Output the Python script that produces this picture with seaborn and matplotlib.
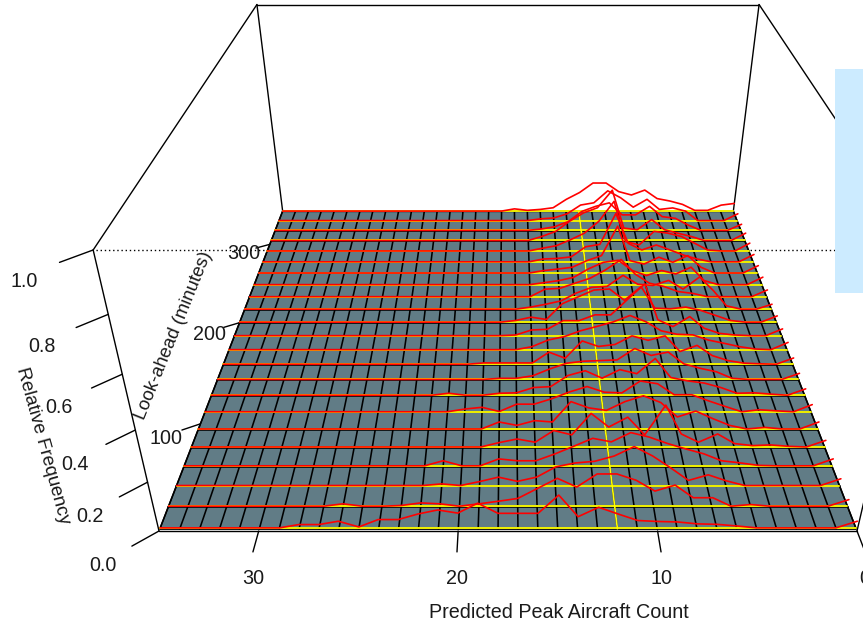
import numpy as np
import pandas as pd
import seaborn as sns
import matplotlib
matplotlib.use("Agg")
import matplotlib.pyplot as plt
from matplotlib.patches import Rectangle, Polygon

sns.set_theme(style="white")
plt.rcParams['font.family'] = ['Liberation Sans', 'DejaVu Sans']

# Relative frequency per look-ahead row; list index = predicted count 0,1,2,...
row_020 = [.028,0,0,0,0,0,.008,.015,.017,.025,.027,.031,.058,.086,.047,.136,.061,.061,.061,.103,.062,.075,.058,.035,.035,.004,.028,.014,.014]
row_035 = [.028,0,0,0,0,.007,0,.036,.036,.089,.064,.109,.135,.135,.081,.117,.075,.033,.021,.01,0,.01,.014,.003,0,0,.01]
row_050 = [.029,0,0,0,0,0,.02,.046,.022,.075,.125,.164,.125,.103,.096,.08,.036,.018,.036,.017,0,.007]
row_065 = [.03,0,0,0,.002,.013,.022,.052,.073,.096,.123,.142,.103,.118,.084,.051,.022,.022,.03,0,0,.022]
row_080 = [.029,0,.003,.009,.006,.015,.057,.021,.057,.18,.053,.129,.087,.145,.053,.072,.021,.035,.019,0]
row_095 = [.031,0,0,.007,0,.016,.046,.079,.053,.116,.145,.12,.082,.093,.12,.031,.037,.016,.031,0]
row_110 = [.032,0,.004,.009,0,.024,.049,.076,.076,.124,.136,.084,.087,.112,.088,.058,.034,.034,.001,.02,.012,0]
row_125 = [.029,0,.005,.011,.009,.035,.055,.065,.08,.164,.097,.115,.077,.11,.089,.039,.035,.011,.009,0,0,.009]
row_140 = [.028,0,0,0,.005,.035,.051,.071,.124,.109,.14,.089,.086,.083,.074,.048,.017,.005,.005,0]
row_155 = [.029,0,.002,.005,.017,.04,.087,.059,.13,.11,.13,.091,.082,.107,.028,.056,.006,.006,.006,.006]
row_170 = [.034,0,.003,.014,.03,.045,.069,.072,.088,.13,.158,.129,.108,.088,.061,.045,.014,0]
row_185 = [.032,0,0,.003,.011,.035,.09,.043,.075,.24,.17,.098,.098,.071,.071,.03,.027,.003]
row_200 = [.03,0,0,.008,.032,.056,.072,.064,.067,.168,.104,.157,.152,.12,.088,.013,.024,.008]
row_215 = [.024,0,0,.016,.09,.154,.097,.138,.114,.12,.162,.11,.105,.078,.04,.024,.01]
row_230 = [.033,0,0,0,0,.016,.025,.05,.066,.11,.18,.13,.09,.066,.041,.037,0]
row_245 = [.037,0,0,0,.02,.086,.053,.07,.045,.07,.12,.11,.078,.036,.02,.01,0]
row_260 = [.037,0,0,0,.029,.087,.054,.079,.045,.062,.23,.087,.062,.029,.02,.012,0]
row_275 = [.037,0,0,0,.014,.034,.06,.085,.06,.093,.24,.088,.076,.025,.017,.014,0]
row_290 = [.04,0,0,.005,.04,.074,.091,.1,.031,.048,.249,.151,.091,.057,.027,.014,0]
row_305 = [.038,0,0,0,.021,.038,.056,.108,.056,.064,.255,.168,.142,.099,.047,.021]
row_320 = [.032,0,0,0,.028,.063,.072,.125,.081,.081,.143,.125,.099,.046,.019,.007]
row_335 = [.036,0,0,0,.05,.067,.059,.112,.071,.12,.156,.094,.082,.036,.014,.009]
row_350 = [.041,.032,.004,.004,.036,.054,.067,.112,.086,.104,.149,.149,.099,.063,.018,.009,.004,.012]
profiles = [row_020,row_035,row_050,row_065,row_080,row_095,row_110,row_125,row_140,row_155,row_170,
            row_185,row_200,row_215,row_230,row_245,row_260,row_275,row_290,row_305,row_320,row_335,row_350]
lookahead = list(range(20, 351, 15))
counts = list(range(0, 36))
count_ticks = [30, 20, 10, 0]
lookahead_ticks = [100, 200, 300]
freq_ticks = [0.0, 0.2, 0.4, 0.6, 0.8, 1.0]
xlim = (0, 35); ylim = (18.5, 350.5); zlim = (0, 1)

# camera of the perspective box
CX, HALF = 508.0, 349.0
DV, DW = 0.5487, -0.1587
B0, BV, BW = 531.0, -204.0, -320.7

def project(x, y, z, du=0.0, dv=0.0):
    u = (xlim[1] - np.asarray(x, float)) / (xlim[1] - xlim[0]) + du
    v = (np.asarray(y, float) - ylim[0]) / (ylim[1] - ylim[0]) + dv
    w = np.asarray(z, float)
    d = 1 + DV * v + DW * w
    return CX + 2 * HALF * (u - 0.5) / d, (B0 + BV * v + BW * w) / d

fig = plt.figure(figsize=(8.63, 6.23), dpi=100)
ax = fig.add_axes([0, 0, 1, 1])

def seg(p, q, **kw):
    a, b = project(*p), project(*q)
    ax.plot([a[0], b[0]], [a[1], b[1]], color="black", lw=kw.pop("lw", 1.0), solid_capstyle="round", **kw)

x0, x1 = xlim; y0, y1 = ylim
a, b = project(x0, y0, 1), project(x1, y0, 1)
ax.plot([a[0], b[0]], [a[1], b[1]], color="black", lw=1.0, ls=(0, (1, 2)), zorder=1)
for p, q in [((x1, y0, 0), (x1, y0, 1)), ((x0, y0, 0), (x0, y0, 1)),
             ((x1, y1, 0), (x1, y1, 1)), ((x0, y1, 0), (x0, y1, 1)),
             ((x1, y1, 1), (x0, y1, 1)), ((x1, y1, 1), (x1, y0, 1)),
             ((x0, y1, 1), (x0, y0, 1)), ((x1, y0, 0), (x0, y0, 0))]:
    seg(p, q, zorder=2)

corners = [project(x1, lookahead[0], 0), project(x0, lookahead[0], 0),
           project(x0, lookahead[-1], 0), project(x1, lookahead[-1], 0)]
ax.add_patch(Polygon(corners, closed=True, facecolor="#617C86", edgecolor="black", lw=1.0, zorder=3))
for c in counts:
    a, b = project(c, lookahead[0], 0), project(c, lookahead[-1], 0)
    ax.plot([a[0], b[0]], [a[1], b[1]], color="black", lw=1.15, zorder=4)
for y in lookahead:
    a, b = project(x0, y, 0), project(x1, y, 0)
    ax.plot([a[0], b[0]], [a[1], b[1]], color="black", lw=1.15, zorder=4)

LIFT = 0.6
for y in lookahead:
    a, b = project(x0, y + LIFT, 0), project(x1, y + LIFT, 0)
    ax.plot([a[0], b[0]], [a[1], b[1]], color="#F2F200", lw=1.4, zorder=5)
a, b = project(12, lookahead[0], 0), project(12, lookahead[-1], 0)
ax.plot([a[0], b[0]], [a[1], b[1]], color="#FFFF00", lw=1.2, zorder=5)

frames = []
for y, prof in zip(lookahead, profiles):
    vals = np.zeros(len(counts))
    vals[:len(prof)] = prof
    sx, sy = project(counts, y + LIFT, vals)
    frames.append(pd.DataFrame({"sx": sx[::-1], "sy": sy[::-1], "row": y}))
df = pd.concat(frames)
sns.lineplot(data=df, x="sx", y="sy", units="row", estimator=None, sort=False,
             color="#FF0000", lw=1.2, legend=False, ax=ax, zorder=6)

FS = 14.2
TXT = "#1a1a1a"
for c in count_ticks:
    a = project(c, y0, 0); b = project(c, y0, 0, dv=-0.0413)
    ax.plot([a[0], b[0]], [a[1], b[1]], color="black", lw=1.0, zorder=2)
    ax.text(b[0], b[1] + 27, str(c), ha="center", va="center", fontsize=FS, color=TXT, clip_on=False)
for yt in lookahead_ticks:
    a = project(x1, yt, 0); b = project(x1, yt, 0, du=-0.026, dv=-0.016)
    ax.plot([a[0], b[0]], [a[1], b[1]], color="black", lw=1.0, zorder=2)
    t = project(x1, yt, 0, du=-0.047, dv=-0.035)
    ax.text(t[0], t[1] + 1, str(yt), ha="center", va="center", fontsize=FS, color=TXT, zorder=7)
for zt in freq_ticks:
    a = project(x1, y0, zt); b = project(x1, y0, zt, du=-0.03, dv=-0.03)
    ax.plot([a[0], b[0]], [a[1], b[1]], color="black", lw=1.0, zorder=2)
    t = project(x1, y0, zt, du=-0.06, dv=-0.062)
    ax.text(t[0], t[1] + 3 + 2 * zt, f"{zt:.1f}", ha="center", va="center", fontsize=FS, color=TXT)

ax.text(559, 612, "Predicted Peak Aircraft Count", ha="center", va="center", fontsize=FS, color=TXT)
ax.text(174, 335, "Look-ahead (minutes)", ha="center", va="center", rotation=68, fontsize=13.3, color=TXT, zorder=7)
ax.text(43, 446, "Relative Frequency", ha="center", va="center", rotation=-74.5, fontsize=13.6, color=TXT)

ax.add_patch(Rectangle((835, 69), 28, 224, facecolor="#CCEBFF", edgecolor="none", zorder=8))

ax.set_xlim(0, 863); ax.set_ylim(623, 0); ax.axis("off")

fig.savefig("out.png", dpi=100)
